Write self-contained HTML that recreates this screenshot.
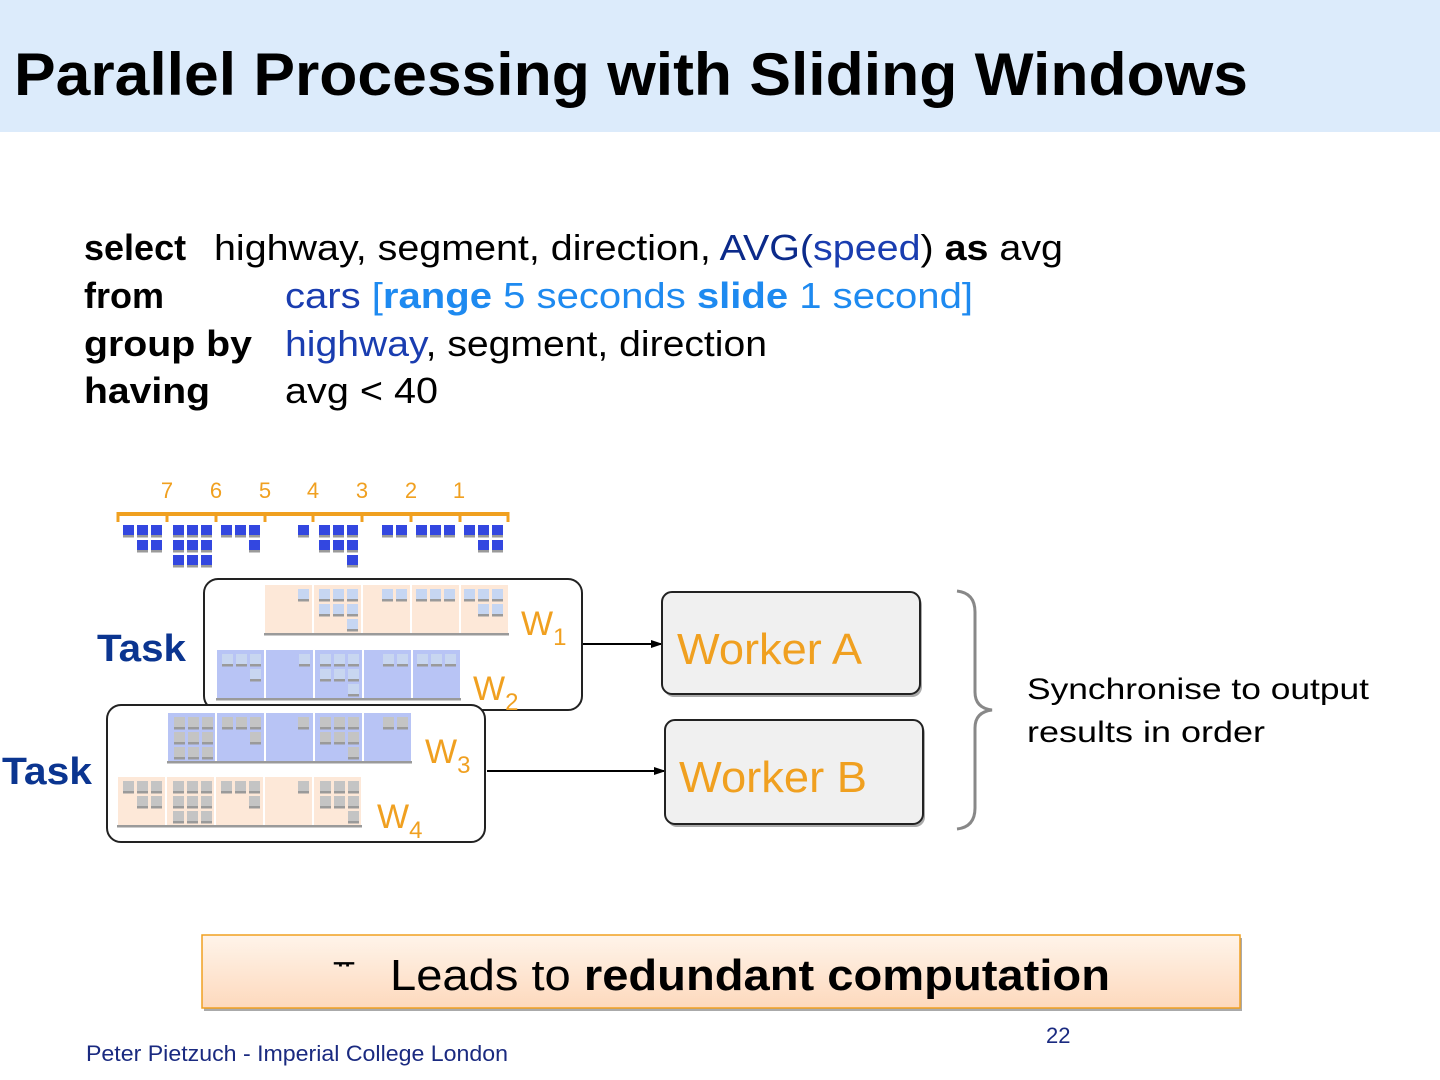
<!DOCTYPE html>
<html><head><meta charset="utf-8"><style>
html,body{margin:0;padding:0;background:#fff;width:1440px;height:1080px;overflow:hidden}
svg{display:block}
text{font-family:"Liberation Sans",sans-serif}
</style></head><body>
<svg width="1440" height="1080" viewBox="0 0 1440 1080" xmlns="http://www.w3.org/2000/svg">
<defs>
<g id="sq"><rect x="0" y="0" width="11" height="11"/><rect x="0" y="10" width="11" height="2.5" fill="#9a9a9a"/></g>
<g id="g1"><use href="#sq" x="5" y="0"/><use href="#sq" x="19" y="0"/><use href="#sq" x="19" y="15"/><use href="#sq" x="33" y="0"/><use href="#sq" x="33" y="15"/></g>
<g id="g2"><use href="#sq" x="6" y="0"/><use href="#sq" x="20" y="0"/><use href="#sq" x="34" y="0"/><use href="#sq" x="6" y="15"/><use href="#sq" x="20" y="15"/><use href="#sq" x="34" y="15"/><use href="#sq" x="6" y="30"/><use href="#sq" x="20" y="30"/><use href="#sq" x="34" y="30"/></g>
<g id="g3"><use href="#sq" x="5" y="0"/><use href="#sq" x="19" y="0"/><use href="#sq" x="33" y="0"/><use href="#sq" x="33" y="15"/></g>
<g id="g4"><use href="#sq" x="33" y="0"/></g>
<g id="g5"><use href="#sq" x="6" y="0"/><use href="#sq" x="6" y="15"/><use href="#sq" x="20" y="0"/><use href="#sq" x="20" y="15"/><use href="#sq" x="34" y="0"/><use href="#sq" x="34" y="15"/><use href="#sq" x="34" y="30"/></g>
<g id="g6"><use href="#sq" x="20" y="0"/><use href="#sq" x="34" y="0"/></g>
<g id="g7"><use href="#sq" x="5" y="0"/><use href="#sq" x="19" y="0"/><use href="#sq" x="33" y="0"/></g>
<g id="g8"><use href="#sq" x="4" y="0"/><use href="#sq" x="18" y="0"/><use href="#sq" x="18" y="15"/><use href="#sq" x="32" y="0"/><use href="#sq" x="32" y="15"/></g>
<linearGradient id="bg" x1="0" y1="0" x2="0" y2="1"><stop offset="0" stop-color="#fff4ea"/><stop offset="1" stop-color="#fdd9bd"/></linearGradient>
<marker id="ar" markerWidth="12" markerHeight="10" refX="11" refY="5" orient="auto" markerUnits="userSpaceOnUse"><path d="M0,1 L12,5 L0,9 Z" fill="#000"/></marker>
</defs>

<rect x="0" y="0" width="1440" height="132" fill="#dcebfb"/>
<text x="14" y="95" font-size="60" font-weight="bold" textLength="1234" lengthAdjust="spacingAndGlyphs" fill="#000">Parallel Processing with Sliding Windows</text>

<g font-size="36">
<text x="84" y="260" font-weight="bold">select</text>
<text x="214" y="260" textLength="849" lengthAdjust="spacingAndGlyphs">highway, segment, direction, <tspan fill="#0b2a8a">AVG(</tspan><tspan fill="#1a3db0">speed</tspan>) <tspan font-weight="bold">as</tspan> avg</text>
<text x="84" y="308" font-weight="bold">from</text>
<text x="285" y="308" textLength="688" lengthAdjust="spacingAndGlyphs" fill="#1e8af0"><tspan fill="#1a3db0">cars</tspan> [<tspan font-weight="bold">range</tspan> 5 seconds <tspan font-weight="bold">slide</tspan> 1 second]</text>
<text x="84" y="356" font-weight="bold" textLength="168" lengthAdjust="spacingAndGlyphs">group by</text>
<text x="285" y="356" textLength="482" lengthAdjust="spacingAndGlyphs"><tspan fill="#1a3db0">highway</tspan>, segment, direction</text>
<text x="84" y="403" font-weight="bold" textLength="126" lengthAdjust="spacingAndGlyphs">having</text>
<text x="285" y="403" textLength="153" lengthAdjust="spacingAndGlyphs">avg &lt; 40</text>
</g>

<g font-size="22" fill="#f0a020" text-anchor="middle">
<text x="167" y="498">7</text><text x="216" y="498">6</text><text x="265" y="498">5</text><text x="313" y="498">4</text><text x="362" y="498">3</text><text x="411" y="498">2</text><text x="459" y="498">1</text>
</g>
<g stroke="#f0a020" stroke-width="3" fill="none">
<line x1="118" y1="514" x2="508" y2="514" stroke-width="4"/>
<line x1="118" y1="512" x2="118" y2="522"/><line x1="167" y1="512" x2="167" y2="522"/><line x1="216" y1="512" x2="216" y2="522"/><line x1="265" y1="512" x2="265" y2="522"/><line x1="313" y1="512" x2="313" y2="522"/><line x1="362" y1="512" x2="362" y2="522"/><line x1="411" y1="512" x2="411" y2="522"/><line x1="460" y1="512" x2="460" y2="522"/><line x1="508" y1="512" x2="508" y2="522"/>
</g>
<g fill="#3347e0">
<use href="#g1" x="118" y="525"/><use href="#g2" x="167" y="525"/><use href="#g3" x="216" y="525"/><use href="#g4" x="265" y="525"/><use href="#g5" x="313" y="525"/><use href="#g6" x="362" y="525"/><use href="#g7" x="411" y="525"/><use href="#g8" x="460" y="525"/>
</g>

<rect x="204" y="579" width="378" height="131" rx="14" fill="#fff" stroke="#222" stroke-width="2"/>
<rect x="107" y="705" width="378" height="137" rx="14" fill="#fff" stroke="#222" stroke-width="2"/>

<g fill="#fde8d8">
<rect x="265" y="585" width="47" height="48"/><rect x="314" y="585" width="47" height="48"/><rect x="363" y="585" width="47" height="48"/><rect x="412" y="585" width="47" height="48"/><rect x="461" y="585" width="47" height="48"/>
</g>
<rect x="264" y="633" width="245" height="2.5" fill="#9a9a9a"/>
<g fill="#c6d6f2"><use href="#g4" x="265" y="589"/><use href="#g5" x="313" y="589"/><use href="#g6" x="362" y="589"/><use href="#g7" x="411" y="589"/><use href="#g8" x="460" y="589"/></g>
<g fill="#b8c4f5">
<rect x="217" y="650" width="47" height="48"/><rect x="266" y="650" width="47" height="48"/><rect x="315" y="650" width="47" height="48"/><rect x="364" y="650" width="47" height="48"/><rect x="413" y="650" width="47" height="48"/>
</g>
<rect x="216" y="698" width="245" height="2.5" fill="#9a9a9a"/>
<g fill="#c8d6f0"><use href="#g3" x="217" y="654"/><use href="#g4" x="266" y="654"/><use href="#g5" x="314" y="654"/><use href="#g6" x="363" y="654"/><use href="#g7" x="412" y="654"/></g>
<g fill="#b8c4f5">
<rect x="168" y="713" width="47" height="48"/><rect x="217" y="713" width="47" height="48"/><rect x="266" y="713" width="47" height="48"/><rect x="315" y="713" width="47" height="48"/><rect x="364" y="713" width="47" height="48"/>
</g>
<rect x="167" y="761" width="245" height="2.5" fill="#9a9a9a"/>
<g fill="#c4c4c4"><use href="#g2" x="168" y="717"/><use href="#g3" x="217" y="717"/><use href="#g4" x="265" y="717"/><use href="#g5" x="314" y="717"/><use href="#g6" x="363" y="717"/></g>
<g fill="#fde8d8">
<rect x="118" y="777" width="47" height="48"/><rect x="167" y="777" width="47" height="48"/><rect x="216" y="777" width="47" height="48"/><rect x="265" y="777" width="47" height="48"/><rect x="314" y="777" width="47" height="48"/>
</g>
<rect x="117" y="825" width="245" height="2.5" fill="#9a9a9a"/>
<g fill="#c4c4c4"><use href="#g1" x="118" y="781"/><use href="#g2" x="167" y="781"/><use href="#g3" x="216" y="781"/><use href="#g4" x="265" y="781"/><use href="#g5" x="314" y="781"/></g>

<g font-size="34" fill="#f0a020">
<text x="521" y="635">W<tspan font-size="24" dy="10">1</tspan></text>
<text x="473" y="700">W<tspan font-size="24" dy="10">2</tspan></text>
<text x="425" y="763">W<tspan font-size="24" dy="10">3</tspan></text>
<text x="377" y="828">W<tspan font-size="24" dy="10">4</tspan></text>
</g>
<g font-size="38" font-weight="bold" fill="#0b3590">
<text x="97" y="661" textLength="89" lengthAdjust="spacingAndGlyphs">Task</text>
<text x="2" y="784" textLength="90" lengthAdjust="spacingAndGlyphs">Task</text>
</g>

<line x1="583" y1="644" x2="662" y2="644" stroke="#000" stroke-width="2" marker-end="url(#ar)"/>
<line x1="487" y1="771" x2="665" y2="771" stroke="#000" stroke-width="2" marker-end="url(#ar)"/>

<rect x="664" y="595" width="258" height="102" rx="10" fill="#aaa"/>
<rect x="662" y="592" width="258" height="102" rx="10" fill="#f0f0f0" stroke="#222" stroke-width="2"/>
<text x="677" y="664" font-size="44" fill="#f0a020" textLength="185" lengthAdjust="spacingAndGlyphs">Worker A</text>
<rect x="667" y="723" width="258" height="104" rx="10" fill="#aaa"/>
<rect x="665" y="720" width="258" height="104" rx="10" fill="#f0f0f0" stroke="#222" stroke-width="2"/>
<text x="679" y="792" font-size="44" fill="#f0a020" textLength="188" lengthAdjust="spacingAndGlyphs">Worker B</text>

<path d="M957,591 Q975,593 975,612 L975,692 Q975,708 992,710 Q975,712 975,728 L975,808 Q975,827 957,829" stroke="#888" stroke-width="3" fill="none"/>
<g font-size="30" fill="#000">
<text x="1027" y="699" textLength="342" lengthAdjust="spacingAndGlyphs">Synchronise to output</text>
<text x="1027" y="742" textLength="238" lengthAdjust="spacingAndGlyphs">results in order</text>
</g>

<rect x="204" y="938" width="1038" height="73" fill="#aaa"/>
<rect x="202" y="935" width="1038" height="73" fill="url(#bg)" stroke="#f0a020" stroke-width="1.5"/>
<text x="333" y="972" font-size="24" font-weight="bold">ᅲ</text>
<text x="390" y="990" font-size="44" textLength="720" lengthAdjust="spacingAndGlyphs">Leads to <tspan font-weight="bold">redundant computation</tspan></text>

<text x="1046" y="1043" font-size="22" fill="#1a2a80">22</text>
<text x="86" y="1061" font-size="22" fill="#1a2a80" textLength="422" lengthAdjust="spacingAndGlyphs">Peter Pietzuch - Imperial College London</text>
</svg>
</body></html>
